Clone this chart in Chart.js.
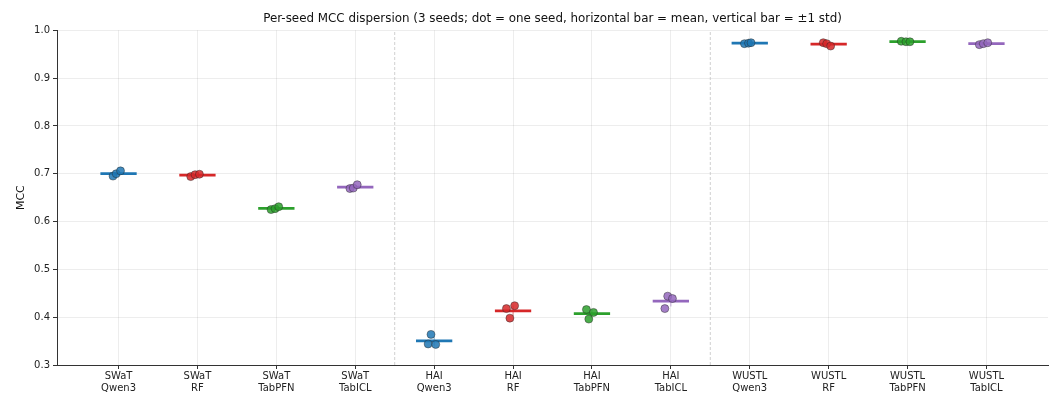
<!DOCTYPE html>
<html>
<head>
<meta charset="utf-8">
<script src="https://cdn.jsdelivr.net/npm/chart.js@4"></script>
<style>
  html, body { margin: 0; padding: 0; background: #fff; }
  #chart { display: block; }
</style>
</head>
<body>
<canvas id="chart" width="1055" height="393"></canvas>
<script>
// dataset / method per column
const CATEGORIES = [
  ["SWaT", "Qwen3"], ["SWaT", "RF"], ["SWaT", "TabPFN"], ["SWaT", "TabICL"],
  ["HAI", "Qwen3"], ["HAI", "RF"], ["HAI", "TabPFN"], ["HAI", "TabICL"],
  ["WUSTL", "Qwen3"], ["WUSTL", "RF"], ["WUSTL", "TabPFN"], ["WUSTL", "TabICL"]
];

// MCC per seed, one value per column
const SEED_A = [0.695, 0.694, 0.625, 0.669, 0.364, 0.418, 0.416, 0.444, 0.972, 0.974, 0.977, 0.970];
const SEED_B = [0.700, 0.698, 0.627, 0.670, 0.344, 0.424, 0.410, 0.439, 0.973, 0.972, 0.976, 0.972];
const SEED_C = [0.706, 0.699, 0.631, 0.677, 0.343, 0.398, 0.396, 0.418, 0.974, 0.967, 0.976, 0.974];

const Y_TICKS = [0.3, 0.4, 0.5, 0.6, 0.7, 0.8, 0.9, 1.0];
const GROUP_BREAKS = [3.5, 7.5];

// horizontal spread of the three seed dots inside a column
const JITTER = [
  [-0.07, -0.03, 0.025], [-0.085, -0.03, 0.025], [-0.067, -0.016, 0.03], [-0.067, -0.025, 0.025],
  [-0.04, -0.076, 0.02], [-0.084, 0.02, -0.04], [-0.07, 0.02, -0.04], [-0.04, 0.02, -0.076],
  [-0.067, -0.016, 0.016], [-0.068, -0.025, 0.025], [-0.08, -0.02, 0.03], [-0.09, -0.04, 0.016]
];

const METHOD_RGB = ["31,119,180", "214,39,40", "44,160,44", "148,103,189"];
const FONT = "'DejaVu Sans', sans-serif";
const HALF_BAR = 0.23;

function mean(arr) {
  return arr.reduce((a, b) => a + b, 0) / arr.length;
}

function std(arr) {
  const m = mean(arr);
  return Math.sqrt(arr.reduce((a, b) => a + (b - m) * (b - m), 0) / arr.length);
}

const datasets = [];

CATEGORIES.forEach((cat, i) => {
  const rgb = METHOD_RGB[i % 4];
  const seeds = [SEED_A[i], SEED_B[i], SEED_C[i]];
  const m = mean(seeds);
  const s = std(seeds);

  // seed dots
  datasets.push({
    data: seeds.map((v, k) => ({ x: i + JITTER[i][k], y: v })),
    backgroundColor: `rgba(${rgb},0.85)`,
    borderColor: "rgba(40,40,40,0.75)",
    borderWidth: 0.6,
    pointRadius: 4,
    order: 1
  });

  // mean bar
  datasets.push({
    data: [{ x: i - HALF_BAR, y: m }, { x: i + HALF_BAR, y: m }],
    showLine: true,
    borderColor: `rgb(${rgb})`,
    borderWidth: 2.8,
    pointRadius: 0,
    order: 2
  });

  // ±1 std
  datasets.push({
    data: [{ x: i, y: m - s }, { x: i, y: m + s }],
    showLine: true,
    borderColor: `rgba(${rgb},0.45)`,
    borderWidth: 1.2,
    pointRadius: 0,
    order: 3
  });
});

GROUP_BREAKS.forEach(b => {
  datasets.push({
    data: [{ x: b, y: Y_TICKS[0] }, { x: b, y: Y_TICKS[Y_TICKS.length - 1] }],
    showLine: true,
    borderColor: "#c4c4c4",
    borderWidth: 0.8,
    borderDash: [3, 2],
    pointRadius: 0,
    order: 4
  });
});

new Chart(document.getElementById("chart"), {
  type: "scatter",
  data: { datasets },
  options: {
    responsive: false,
    animation: false,
    layout: { padding: { left: 0, right: 7, top: 0, bottom: 0 } },
    plugins: {
      legend: { display: false },
      tooltip: { enabled: false },
      title: {
        display: true,
        fullSize: false,
        text: "Per-seed MCC dispersion (3 seeds; dot = one seed, horizontal bar = mean, vertical bar = ±1 std)",
        color: "#111",
        font: { family: FONT, size: 11.9, weight: "normal" },
        padding: { top: 11.5, bottom: 4.5 }
      }
    },
    scales: {
      x: {
        type: "linear",
        min: -0.78,
        max: 11.78,
        afterBuildTicks: scale => {
          scale.ticks = CATEGORIES.map((c, i) => ({ value: i }));
        },
        afterFit: scale => { scale.height = 28; },
        ticks: {
          callback: v => CATEGORIES[v],
          color: "#222",
          font: { family: FONT, size: 10 },
          padding: 1,
          maxRotation: 0,
          autoSkip: false
        },
        grid: {
          color: "rgba(0,0,0,0.07)",
          tickColor: "#333",
          tickLength: 4
        },
        border: { color: "#333", width: 1 }
      },
      y: {
        min: Y_TICKS[0],
        max: Y_TICKS[Y_TICKS.length - 1],
        afterBuildTicks: scale => {
          scale.ticks = Y_TICKS.map(v => ({ value: v }));
        },
        afterFit: scale => { scale.width = 57; },
        ticks: {
          callback: v => v.toFixed(1),
          color: "#222",
          font: { family: FONT, size: 10 },
          padding: 3
        },
        grid: {
          color: "rgba(0,0,0,0.07)",
          tickColor: "#333",
          tickLength: 4
        },
        border: { color: "#333", width: 1 },
        title: {
          display: true,
          text: "MCC",
          color: "#111",
          font: { family: FONT, size: 11 },
          padding: { top: 15, bottom: 0 }
        }
      }
    }
  }
});
</script>
</body>
</html>
